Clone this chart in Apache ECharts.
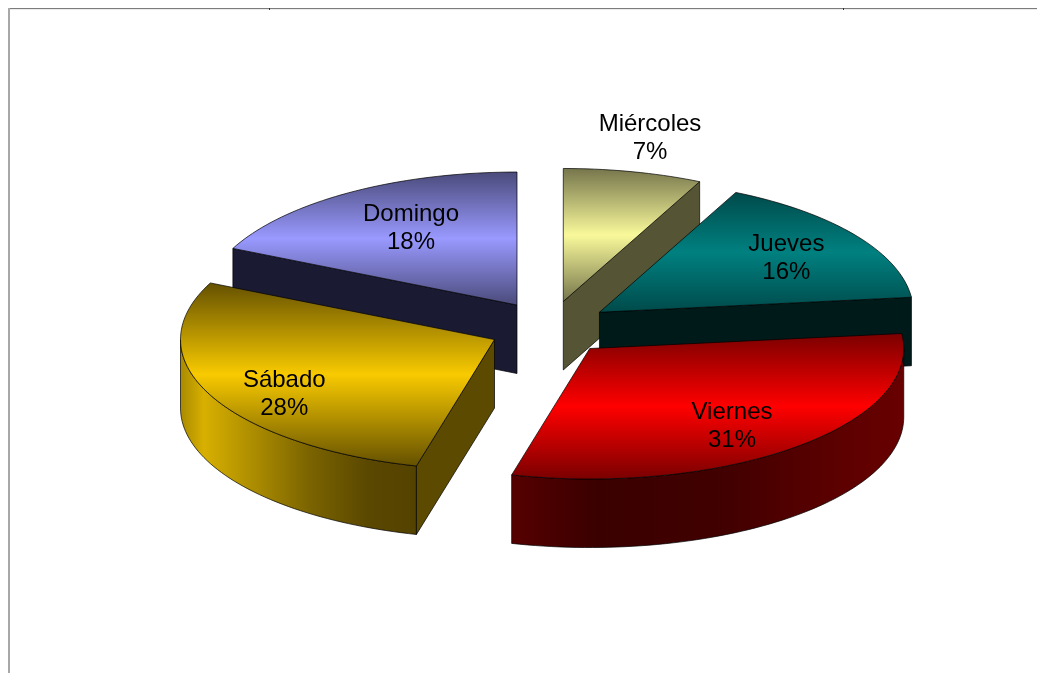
<!DOCTYPE html>
<html>
<head>
<meta charset="utf-8">
<style>html,body{margin:0;padding:0;background:#fff}#c{width:1037px;height:673px}</style>
<script src="https://cdn.jsdelivr.net/npm/echarts@6/dist/echarts.min.js"></script>
</head>
<body>
<div id="c"></div>
<script>
var categories = ['Miércoles', 'Jueves', 'Viernes', 'Sábado', 'Domingo'];
var values = [7.15, 16.05, 30.8, 28, 18];

var baseColors = ['#f9f99b', '#008080', '#ff0000', '#f8ca00', '#9999ff'];
var edgeColors = ['#75754c', '#004a4a', '#7a0000', '#645000', '#4a4a7a'];
var cutColors = ['#555535', '#001a1a', '#3a0000', '#5c4a00', '#1a1a33'];
var paintRank = [1, 2, 3, 4, 0];
var labelReach = [[1.24, 1.26], [0.73, 0.70], [0.69, 0.78], [0.74, 0.97], [0.63, 0.68]];
var wallStops = [
  null, null,
  [[0, '#560000'], [0.22, '#3a0000'], [0.55, '#420000'], [0.85, '#5e0000'], [1, '#680000']],
  [[0, '#a88a00'], [0.1, '#d8b000'], [0.3, '#ae8e00'], [0.55, '#7a6300'], [0.8, '#5a4700'], [1, '#544200']],
  null
];

var view = { cx: 549.7, cy: 328, rx: 314, ryBack: 133, ryFront: 130.5, depth: 68.5, explode: 61, explodeTilt: 0.446 };
var total = values.reduce(function (a, b) { return a + b; }, 0);

function point(apex, deg, drop) {
  var t = deg * Math.PI / 180, c = Math.cos(t);
  return [apex[0] + view.rx * Math.sin(t), apex[1] - (c > 0 ? view.ryBack : view.ryFront) * c + (drop || 0)];
}
function arc(apex, a0, a1, drop) {
  var pts = [], n = Math.max(2, Math.ceil(Math.abs(a1 - a0) / 1.5));
  for (var i = 0; i <= n; i++) pts.push(point(apex, a0 + (a1 - a0) * i / n, drop));
  return pts;
}
function cutFace(apex, deg, z2, fill) {
  var e = point(apex, deg), d = view.depth;
  return {
    type: 'polygon', z2: z2,
    shape: { points: [apex, e, [e[0], e[1] + d], [apex[0], apex[1] + d]] },
    style: { fill: fill, stroke: '#000', lineWidth: 0.7 }
  };
}

function renderSlice(params, api) {
  var i = params.dataIndex, before = 0;
  for (var k = 0; k < i; k++) before += values[k];
  var share = api.value(0) / total;
  var a0 = before / total * 360, a1 = a0 + share * 360, mid = (a0 + a1) / 2;
  var mt = mid * Math.PI / 180;
  var apex = [
    view.cx + view.explode * Math.sin(mt),
    view.cy - view.explode * view.explodeTilt * Math.cos(mt)
  ];
  var z = paintRank[i] * 10 + 1;
  var children = [];

  var w0 = Math.max(a0, 90), w1 = Math.min(a1, 270);
  if (w1 > w0) {
    var top = arc(apex, w0, w1), bottom = arc(apex, w0, w1, view.depth).reverse();
    var stops = wallStops[i] || [[0, cutColors[i]], [1, cutColors[i]]];
    children.push({
      type: 'polygon', z2: z,
      shape: { points: top.concat(bottom) },
      style: {
        stroke: '#000', lineWidth: 0.7,
        fill: { type: 'linear', x: 0, y: 0, x2: 1, y2: 0,
          colorStops: stops.map(function (s) { return { offset: s[0], color: s[1] }; }) }
      }
    });
  }
  var s0 = Math.sin(a0 * Math.PI / 180), s1 = Math.sin(a1 * Math.PI / 180);
  if (s0 < -1e-6) children.push(cutFace(apex, a0, z + 1, cutColors[i]));
  if (s1 > 1e-6) children.push(cutFace(apex, a1, z + 1, cutColors[i]));

  children.push({
    type: 'polygon', z2: z + 2,
    shape: { points: [apex].concat(arc(apex, a0, a1)) },
    style: {
      stroke: '#000', lineWidth: 0.7,
      fill: { type: 'linear', x: 0, y: 0, x2: 0, y2: 1, colorStops: [
        { offset: 0, color: edgeColors[i] },
        { offset: 0.5, color: baseColors[i] },
        { offset: 1, color: edgeColors[i] }
      ] }
    }
  });

  var reach = labelReach[i];
  children.push({
    type: 'text', z2: 100,
    style: {
      text: categories[i] + '\n' + Math.round(share * 100) + '%',
      x: apex[0] + view.rx * Math.sin(mt) * reach[0],
      y: apex[1] - view.ryBack * Math.cos(mt) * reach[1],
      align: 'center', verticalAlign: 'middle',
      font: '24px "Liberation Sans", Arial, sans-serif',
      lineHeight: 28, fill: '#000'
    }
  });
  return { type: 'group', children: children };
}

var chart = echarts.init(document.getElementById('c'), null, { width: 1037, height: 673 });
chart.setOption({
  backgroundColor: '#fff',
  animation: false,
  graphic: [
    { type: 'rect', silent: true, shape: { x: 8, y: 8, width: 1029, height: 1 }, style: { fill: '#7c7c7c' } },
    { type: 'rect', silent: true, shape: { x: 9, y: 9, width: 1028, height: 1 }, style: { fill: '#ececec' } },
    { type: 'rect', silent: true, shape: { x: 8, y: 8, width: 2, height: 665 }, style: { fill: '#a8a8a8' } },
    { type: 'rect', silent: true, shape: { x: 269, y: 8, width: 1, height: 2 }, style: { fill: '#333' } },
    { type: 'rect', silent: true, shape: { x: 843, y: 8, width: 1, height: 2 }, style: { fill: '#333' } }
  ],
  series: [{
    type: 'custom',
    coordinateSystem: 'none',
    renderItem: renderSlice,
    silent: true,
    data: values.map(function (v, i) { return { name: categories[i], value: [v] }; })
  }]
});
</script>
</body>
</html>
